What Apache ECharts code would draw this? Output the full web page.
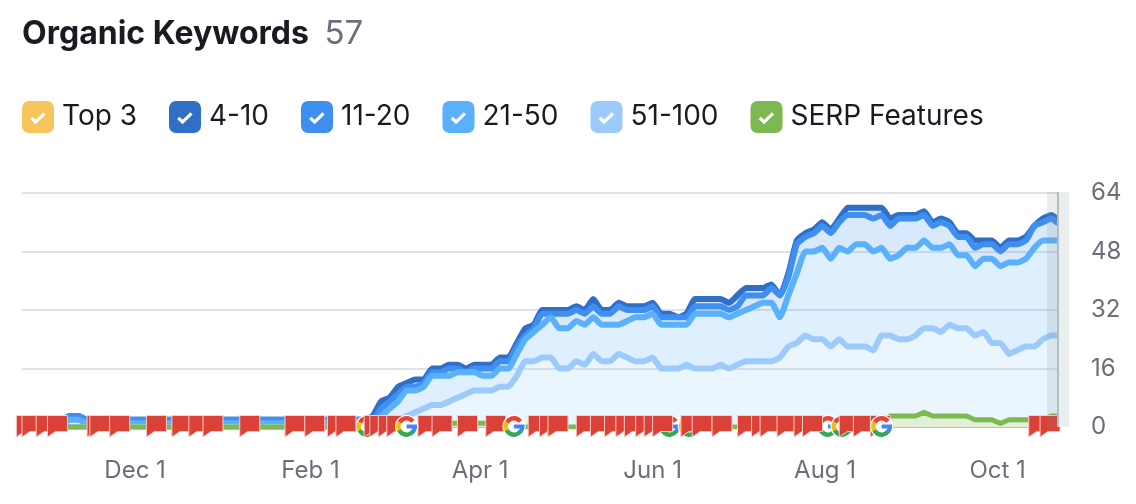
<!DOCTYPE html>
<html>
<head>
<meta charset="utf-8">
<style>html,body{margin:0;padding:0;background:#fff}#chart{width:1136px;height:504px}</style>
<script src="https://cdn.jsdelivr.net/npm/echarts@6/dist/echarts.min.js"></script>
</head>
<body>
<div id="chart"></div>
<script>
// shared dates for all position series
var dates = ['2023-10-22','2023-11-05','2023-11-08','2023-11-11','2023-11-14','2023-11-28','2023-12-15','2024-01-01','2024-02-01','2024-02-17',
  '2024-02-20','2024-02-23','2024-02-26','2024-02-29','2024-03-03','2024-03-06','2024-03-09','2024-03-12','2024-03-15','2024-03-18',
  '2024-03-21','2024-03-24','2024-03-27','2024-03-30','2024-04-02','2024-04-05','2024-04-08','2024-04-11','2024-04-14','2024-04-17',
  '2024-04-20','2024-04-23','2024-04-26','2024-04-29','2024-05-02','2024-05-05','2024-05-08','2024-05-11','2024-05-14','2024-05-17',
  '2024-05-20','2024-05-23','2024-05-26','2024-05-29','2024-06-01','2024-06-04','2024-06-07','2024-06-10','2024-06-13','2024-06-16',
  '2024-06-19','2024-06-22','2024-06-25','2024-06-28','2024-07-01','2024-07-04','2024-07-07','2024-07-10','2024-07-13','2024-07-16',
  '2024-07-19','2024-07-22','2024-07-25','2024-07-28','2024-07-31','2024-08-03','2024-08-06','2024-08-09','2024-08-12','2024-08-15',
  '2024-08-18','2024-08-21','2024-08-24','2024-08-27','2024-08-30','2024-09-02','2024-09-05','2024-09-08','2024-09-11','2024-09-14',
  '2024-09-17','2024-09-20','2024-09-23','2024-09-26','2024-09-29','2024-10-02','2024-10-05','2024-10-08','2024-10-11','2024-10-14',
  '2024-10-17','2024-10-20','2024-10-22'];

var pos51to100 = [0,0,0,0,0,0,0,0,0,0,
  0,0,0,0,2,3,4,5,6,6,7,8,9,10,10,10,11,11,14,18,18,19,19,16,16,18,17,20,18,18,20,19,18,18,19,16,16,16,17,16,16,16,17,16,17,18,18,18,18,19,22,23,25,24,24,22,24,22,22,22,21,25,25,24,24,25,27,27,26,28,27,27,25,26,23,23,20,21,22,22,24,25,25];
var pos21to50 = [1,1,2,2,1,1,1,1,1,1,
  1,1,3,5,5,7,6,6,8,8,7,7,6,5,4,4,5,5,6,6,8,9,11,11,11,11,11,10,10,10,8,10,12,12,12,12,12,12,11,15,15,15,14,14,14,14,15,16,16,11,14,19,23,24,25,24,25,26,28,28,27,24,21,23,25,24,24,22,23,22,20,20,19,20,23,21,25,24,24,27,27,26,26];
var pos11to20 = [1,1,1,1,1,1,1,1,1,1,
  1,1,2,2,2,1,1,1,1,1,2,1,0,1,2,2,2,2,2,1,1,3,1,4,4,3,3,3,3,3,5,3,2,2,2,2,2,2,2,2,2,2,2,2,2,4,3,2,4,6,5,8,4,5,6,7,7,10,8,8,9,9,9,10,8,8,7,6,7,5,5,5,5,4,4,4,5,5,5,6,5,6,5];
var pos4to10 = [0,0,0,0,0,0,0,0,0,0,
  0,1,2,1,2,1,2,1,1,1,1,1,1,1,1,1,1,1,1,2,1,1,1,1,1,1,1,2,1,1,1,1,1,1,1,1,1,0,1,2,2,2,2,2,3,2,2,2,1,0,1,1,1,1,1,1,1,2,2,2,3,2,2,1,1,1,1,1,1,1,1,1,2,1,1,1,1,1,1,0,1,1,1];
var serpFeatures = [0,0,0,0,0,0,0,0,0,0,
  0,0,0,0,0,0,0,0,0,0,1,1,1,1,1,1,0,0,0,0,0,0,0,0,0,0,0,0,0,0,0,0,0,0,0,0,0,0,0,0,0,0,0,0,0,0,0,0,0,0,0,0,0,0,0,0,0,0,0,0,0,0,3,3,3,3,4,3,3,3,3,3,2,2,2,1,2,2,2,2,2,3,3];

var tickDates = ['2023-12-01','2024-02-01','2024-04-01','2024-06-01','2024-08-01','2024-10-01'];
var tickLabels = ['Dec 1','Feb 1','Apr 1','Jun 1','Aug 1','Oct 1'];

// note flags and google update markers along the bottom
var flagDates = ['2023-10-20','2023-10-22','2023-10-27','2023-10-31','2023-11-14','2023-11-15','2023-11-22','2023-12-05','2023-12-14','2023-12-20','2023-12-25',
  '2024-01-07','2024-01-23','2024-01-30','2024-02-07','2024-02-10','2024-02-20','2024-02-22','2024-02-25','2024-02-28','2024-03-10','2024-03-15','2024-03-24',
  '2024-04-03','2024-04-18','2024-04-22','2024-04-25','2024-05-05','2024-05-10','2024-05-15','2024-05-19','2024-05-22','2024-05-26','2024-05-29','2024-06-01',
  '2024-06-11','2024-06-15','2024-06-22','2024-07-01','2024-07-06','2024-07-09','2024-07-15','2024-07-21','2024-07-24','2024-08-06','2024-08-11','2024-08-17',
  '2024-10-12','2024-10-16'];
var googleUnder = ['2024-02-21','2024-06-07','2024-06-14','2024-08-02','2024-08-07'];
var googleOver = ['2024-03-06','2024-04-13','2024-08-21'];

var checkIcon = 'path://M7 0H25A7 7 0 0 1 32 7V25A7 7 0 0 1 25 32H7A7 7 0 0 1 0 25V7A7 7 0 0 1 7 0Z' +
  'M13.6 23.2L23.6 13.4L21.4 11.2L13.6 18.8L10.4 15.7L8.2 17.9Z';

function ts(d) {
  return echarts.time.parse(d).getTime();
}

function pairs(values) {
  return values.map(function (v, i) { return [dates[i], v]; });
}

function markerData(list) {
  return list.map(function (d) { return [d, 0]; });
}

function renderFlag(params, api) {
  var p = api.coord([api.value(0), 0]);
  var x = p[0], y = p[1];
  return {
    type: 'polygon',
    shape: { points: [[x, y - 11.5], [x + 20, y - 11.5], [x + 20, y + 4.5], [x + 8, y + 4.5], [x, y + 10]] },
    style: { fill: '#db4137', stroke: '#f6cdc9', lineWidth: 1 }
  };
}

function gArc(cx, cy, start, end, color) {
  return {
    type: 'arc',
    shape: { cx: cx, cy: cy, r: 8.2, startAngle: start, endAngle: end, clockwise: true },
    style: { fill: null, stroke: color, lineWidth: 4.4 }
  };
}

function renderGoogle(params, api) {
  var p = api.coord([api.value(0), 0]);
  var cx = p[0], cy = p[1] - 0.5;
  return {
    type: 'group',
    children: [
      { type: 'circle', shape: { cx: cx, cy: cy, r: 11.6 }, style: { fill: '#fff' } },
      gArc(cx, cy, Math.PI * 1.15, Math.PI * 1.78, '#ea4335'),
      gArc(cx, cy, Math.PI * 0.82, Math.PI * 1.18, '#fbbc05'),
      gArc(cx, cy, Math.PI * 0.2, Math.PI * 0.85, '#34a853'),
      gArc(cx, cy, 0, Math.PI * 0.22, '#4285f4'),
      { type: 'rect', shape: { x: cx, y: cy - 2, width: 10.4, height: 4 }, style: { fill: '#4285f4' } }
    ]
  };
}

function bandSeries(name, values, color, z) {
  return {
    name: name,
    type: 'line',
    stack: 'positions',
    data: pairs(values),
    z: z,
    showSymbol: false,
    smooth: 0.15,
    color: color,
    itemStyle: { color: color },
    lineStyle: { color: color, width: 6, join: 'round', cap: 'round' },
    areaStyle: { color: color, opacity: 0.2 },
    silent: true
  };
}

var chart = echarts.init(document.getElementById('chart'));

chart.setOption({
  animation: false,
  textStyle: { fontFamily: 'Inter' },
  title: {
    left: 22,
    top: 18,
    padding: 0,
    text: '{a|Organic Keywords}  {b|57}',
    textStyle: {
      rich: {
        a: { fontFamily: 'Inter', fontSize: 32, fontWeight: 700, color: '#191b23' },
        b: { fontFamily: 'Inter', fontSize: 33, fontWeight: 400, color: '#6c6e79', padding: [0, 0, 0, 7] }
      }
    }
  },
  legend: {
    left: 22,
    top: 101,
    padding: 0,
    icon: checkIcon,
    itemWidth: 32,
    itemHeight: 32,
    itemGap: 32,
    selectedMode: false,
    itemStyle: { borderWidth: 0 },
    textStyle: { fontFamily: 'Inter', fontSize: 28, color: '#191b23', padding: [0, 0, 0, 3] },
    data: ['Top 3', '4-10', '11-20', '21-50', '51-100', 'SERP Features']
  },
  grid: { left: 22, right: 79, top: 193, bottom: 77 },
  xAxis: {
    type: 'time',
    min: '2023-10-22',
    max: '2024-10-22',
    splitNumber: 12,
    axisLine: { show: true, lineStyle: { color: '#b9bdc0', width: 2 } },
    axisTick: { show: false },
    splitLine: { show: false },
    axisLabel: {
      margin: 32,
      fontFamily: 'Inter',
      fontSize: 24,
      color: '#6c6e79',
      hideOverlap: false,
      showMinLabel: false,
      showMaxLabel: false,
      formatter: function (value) {
        return tickLabels[tickDates.map(ts).indexOf(value)] || '';
      }
    }
  },
  yAxis: {
    type: 'value',
    position: 'right',
    min: 0,
    max: 64,
    interval: 16,
    axisLine: { show: false },
    axisTick: { show: false },
    splitLine: { lineStyle: { color: '#e0e1e9', width: 2 } },
    axisLabel: { margin: 34, fontFamily: 'Inter', fontSize: 24, color: '#6c6e79' }
  },
  graphic: [
    { type: 'rect', z: 20, shape: { x: 1047, y: 192, width: 10, height: 235 }, style: { fill: 'rgba(120,140,140,0.16)' }, silent: true },
    { type: 'rect', z: 20, shape: { x: 1059, y: 192, width: 10, height: 235 }, style: { fill: '#e9eeee' }, silent: true },
    { type: 'rect', z: 20, shape: { x: 1057, y: 192, width: 2, height: 235 }, style: { fill: '#b7bdbd' }, silent: true }
  ],
  series: [
    { name: 'Top 3', type: 'line', data: [], color: '#f6c65b', itemStyle: { color: '#f6c65b' } },
    bandSeries('51-100', pos51to100, '#9ccbfb', 8),
    bandSeries('21-50', pos21to50, '#5bb0fb', 7),
    bandSeries('11-20', pos11to20, '#3f8ff0', 6),
    bandSeries('4-10', pos4to10, '#2f6fc6', 5),
    {
      name: 'SERP Features',
      type: 'line',
      data: pairs(serpFeatures),
      z: 9,
      showSymbol: false,
      color: '#7cb950',
      itemStyle: { color: '#7cb950' },
      lineStyle: { color: '#7cb950', width: 5, join: 'round' },
      areaStyle: { color: '#e0efd6', opacity: 1 },
      silent: true
    },
    { name: 'updates under', type: 'custom', data: markerData(googleUnder), encode: { x: 0, y: 1 }, renderItem: renderGoogle, z: 10, silent: true },
    { name: 'flags', type: 'custom', data: markerData(flagDates), encode: { x: 0, y: 1 }, renderItem: renderFlag, z: 11, silent: true },
    { name: 'updates over', type: 'custom', data: markerData(googleOver), encode: { x: 0, y: 1 }, renderItem: renderGoogle, z: 12, silent: true }
  ]
});
</script>
</body>
</html>
